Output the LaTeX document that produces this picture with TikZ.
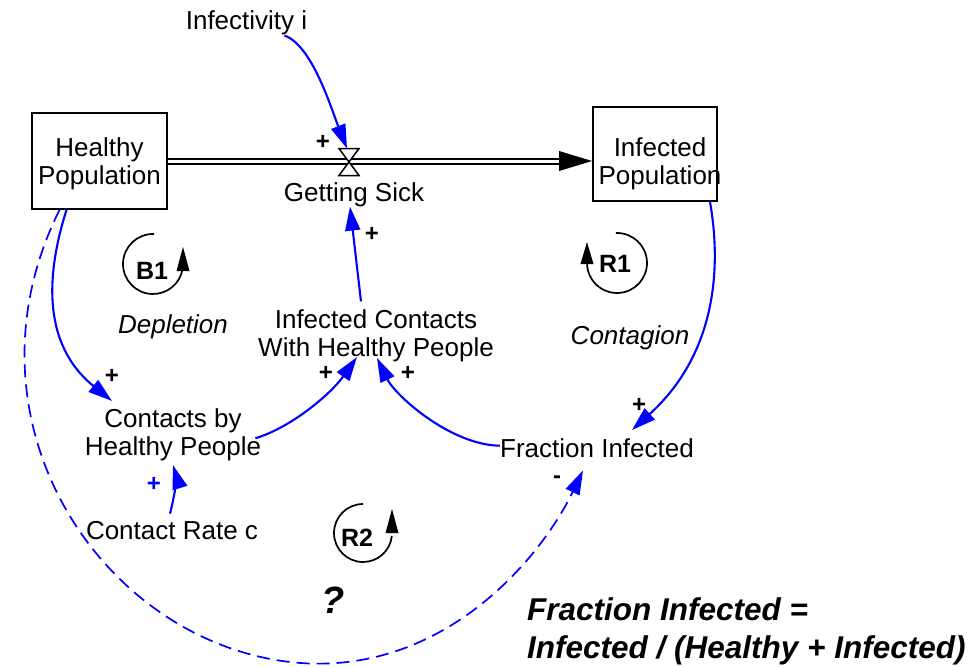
\documentclass[tikz,border=0pt]{standalone}
\usepackage{fontspec}
\setmainfont{Liberation Sans}
\usetikzlibrary{arrows.meta}
\definecolor{linkblue}{RGB}{0,0,255}
\begin{document}
\begin{tikzpicture}[x=1pt,y=-1pt,
  txt/.style={font=\fontsize{26}{28}\selectfont, align=center, inner sep=0pt},
  note/.style={font=\itshape\fontsize{26}{28}\selectfont, inner sep=0pt},
  loopname/.style={font=\bfseries\fontsize{25}{25}\selectfont, inner sep=0pt},
  stock/.style={draw, line width=1.8pt, inner sep=0pt},
  link/.style={linkblue, line width=2.1pt, -{Triangle[length=24pt,width=15pt]}},
  sgn/.style={font=\bfseries\fontsize{24}{24}\selectfont, inner sep=0pt},
  loopline/.style={line width=1.7pt},
]
\useasboundingbox (0,0) rectangle (976,666);

% stocks
\node[stock, minimum width=135pt, minimum height=96pt] (hp) at (99.5,161) {};
\node[txt] (hpl) at (99.5,164.25) {Healthy\\Population};
\node[stock, minimum width=124pt, minimum height=94pt] (ip) at (655,154) {};
\node[txt] (ipl) at (660,164.25) {Infected\\Population};

% auxiliaries and constants
\node[txt, anchor=base] (ii) at (246.5,30) {Infectivity i};
\node[txt, anchor=base] (gs) at (354,201) {Getting Sick};
\node[txt] (ic) at (376,335.75) {Infected Contacts\\With Healthy People};
\node[txt] (chp) at (173,435.25) {Contacts by\\Healthy People};
\node[txt, anchor=base] (cr) at (172,539) {Contact Rate c};
\node[txt, anchor=base] (fi) at (597,457) {Fraction Infected};

% loop annotations
\node[note, anchor=base] (dep) at (173,333) {Depletion};
\node[note, anchor=base] (con) at (630,344) {Contagion};
\node[font=\bfseries\itshape\fontsize{38}{38}\selectfont, inner sep=0pt] (q) at (333,600) {?};
\node[font=\bfseries\itshape\fontsize{31.5}{38}\selectfont, align=left, anchor=north west, inner sep=0pt] (eq) at (527,597) {Fraction Infected =\\Infected / (Healthy + Infected)};

% flow pipe with valve
\coordinate (pipeend) at (ip.west |- hp.east);
\draw[line width=7pt] (hp.east) -- ([xshift=-32]pipeend);
\draw[white, line width=3pt] (hp.east) -- ([xshift=-30]pipeend);
\fill ([shift={(-33,-10)}]pipeend) -- (pipeend) -- ([shift={(-33,10)}]pipeend) -- cycle;
\coordinate (valve) at (349,162);
\filldraw[fill=white, line width=1.5pt, line join=miter]
  ([shift={(-10,-13.5)}]valve) -- ([shift={(10,-13.5)}]valve) --
  ([shift={(-10,13.5)}]valve) -- ([shift={(10,13.5)}]valve) -- cycle;

% causal links
\draw[link] ([xshift=38]ii.south) .. controls (312,45) and (331,108) .. ([shift={(-2,-13.5)}]valve);
\draw[link] ([shift={(-15,-8)}]ic.north) -- ([xshift=-4]gs.south);
\draw[link] ([shift={(-6,3)}]chp.east) .. controls (290,428) and (330,395) .. ([shift={(-19,-5)}]ic.south);
\draw[link] ([yshift=2]fi.west) .. controls (450,445) and (395,395) .. ([shift={(1,-4)}]ic.south);
\draw[link] ([xshift=55]ip.south) .. controls (722,270) and (715,355) .. ([shift={(35,-8)}]fi.north);
\draw[link] ([xshift=-33]hp.south) .. controls (38,300) and (55,355) .. ([shift={(-61,-8)}]chp.north);
\draw[link] ([shift={(-2,-7)}]cr.north) .. controls (175,495) and (176,475) .. ([yshift=-3.5]chp.south);
\draw[link, line width=1.7pt, dash pattern=on 13pt off 7pt]
  ([xshift=-40]hp.south) .. controls (-45,420) and (100,640) .. (290,662)
  .. controls (440,679) and (540,560) .. ([shift={(-14,13)}]fi.south);

% link polarities
\node[sgn] (s1) at (323,142) {+};
\node[sgn] (s2) at (372,234) {+};
\node[sgn] (s3) at (112,376) {+};
\node[sgn] (s4) at (326,373) {+};
\node[sgn] (s5) at (408,373) {+};
\node[sgn] (s6) at (639,405) {+};
\node[sgn, text=linkblue] (s7) at (154,484) {+};
\node[sgn] (s8) at (557,480) {-};

% feedback loop markers: open circle with an upward arrowhead
\coordinate (b1c) at (153,264);
\node[loopname] (b1) at (152,271) {B1};
\draw[loopline] ([shift={(-88:30)}]b1c) arc[start angle=-88, end angle=-352, radius=30];
\fill ([shift={(23.5,7)}]b1c) -- ([shift={(36.5,7)}]b1c) -- ([shift={(30,-17)}]b1c) -- cycle;

\coordinate (r1c) at (617,263);
\node[loopname] (r1) at (615,264) {R1};
\draw[loopline] ([shift={(-92:30)}]r1c) arc[start angle=-92, end angle=184, radius=30];
\fill ([shift={(-36.5,1)}]r1c) -- ([shift={(-23.5,1)}]r1c) -- ([shift={(-30,-21)}]r1c) -- cycle;

\coordinate (r2c) at (363,533);
\node[loopname] (r2) at (357,538) {R2};
\draw[loopline] ([shift={(-90:29)}]r2c) arc[start angle=-90, end angle=-354, radius=29];
\fill ([shift={(22.5,0)}]r2c) -- ([shift={(35.5,0)}]r2c) -- ([shift={(29,-24)}]r2c) -- cycle;
\end{tikzpicture}
\end{document}
